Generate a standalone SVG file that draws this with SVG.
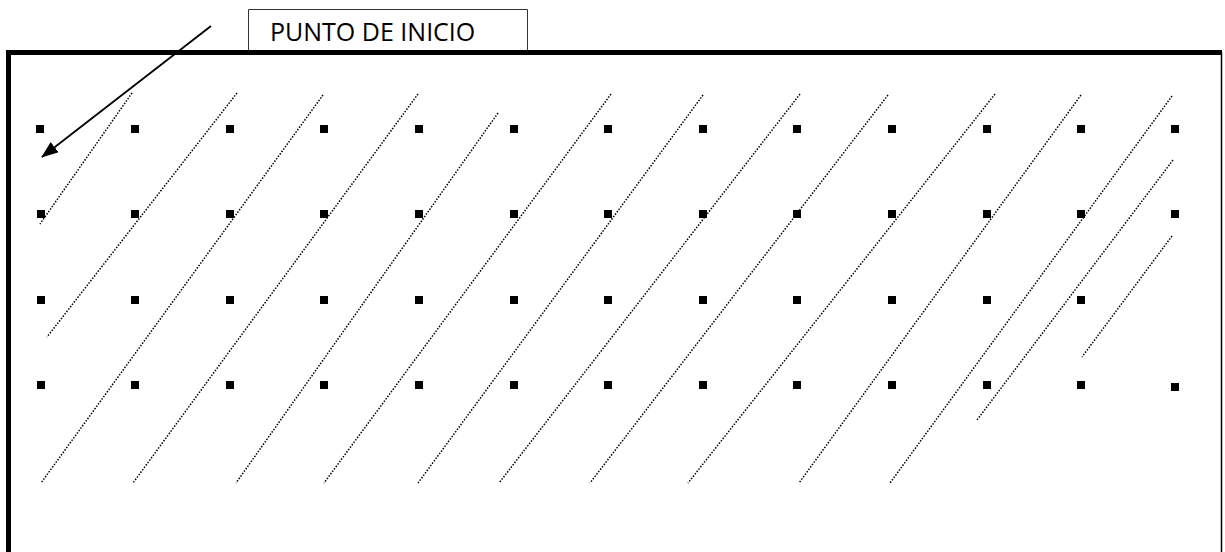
<svg xmlns="http://www.w3.org/2000/svg" width="1225" height="552" viewBox="0 0 1225 552">
<defs>
<style>
.dot{stroke:#000;stroke-width:1.5;stroke-dasharray:1.5 1.5;fill:none}
.sq{fill:#000}
.lbl{font-family:"Open Sans","Noto Sans","Liberation Sans",sans-serif;font-size:25px;fill:#000}
</style>
<marker id="ah" markerWidth="17" markerHeight="13" viewBox="0 0 17 13" refX="16" refY="6.5" orient="auto" markerUnits="userSpaceOnUse">
<path d="M0,0 L17,6.5 L0,13 Z" fill="#000"/>
</marker>
<rect id="s" x="-4" y="-4" width="8" height="8"/>
</defs>
<rect width="1225" height="552" fill="#fff"/>
<g id="frame">
<path d="M8.5,552 V52.5 H1222" fill="none" stroke="#000" stroke-width="5"/>
<line x1="1221.5" y1="52" x2="1221.5" y2="552" stroke="#000" stroke-width="1.5"/>
</g>
<g id="label">
<path d="M248.5,50 V9.5 H527.5 V50" fill="#fff" stroke="#333" stroke-width="1"/>
<text class="lbl" x="270" y="41">PUNTO DE INICIO</text>
</g>
<g id="points" class="sq">
<use href="#s" x="40" y="129"/><use href="#s" x="135" y="129"/><use href="#s" x="230" y="129"/><use href="#s" x="324" y="129"/><use href="#s" x="419" y="129"/><use href="#s" x="514" y="129"/><use href="#s" x="608" y="129"/><use href="#s" x="703" y="129"/><use href="#s" x="797" y="129"/><use href="#s" x="892" y="129"/><use href="#s" x="987" y="129"/><use href="#s" x="1081" y="129"/><use href="#s" x="1175" y="129"/>
<use href="#s" x="41" y="214"/><use href="#s" x="135" y="214"/><use href="#s" x="230" y="214"/><use href="#s" x="324" y="214"/><use href="#s" x="419" y="214"/><use href="#s" x="514" y="214"/><use href="#s" x="608" y="214"/><use href="#s" x="703" y="214"/><use href="#s" x="797" y="214"/><use href="#s" x="892" y="214"/><use href="#s" x="987" y="214"/><use href="#s" x="1081" y="214"/><use href="#s" x="1175" y="214"/>
<use href="#s" x="41" y="300"/><use href="#s" x="135" y="300"/><use href="#s" x="230" y="300"/><use href="#s" x="324" y="300"/><use href="#s" x="419" y="300"/><use href="#s" x="514" y="300"/><use href="#s" x="608" y="300"/><use href="#s" x="703" y="300"/><use href="#s" x="797" y="300"/><use href="#s" x="892" y="300"/><use href="#s" x="987" y="300"/><use href="#s" x="1081" y="300"/>
<use href="#s" x="41" y="385"/><use href="#s" x="135" y="385"/><use href="#s" x="230" y="385"/><use href="#s" x="324" y="385"/><use href="#s" x="419" y="385"/><use href="#s" x="514" y="385"/><use href="#s" x="608" y="385"/><use href="#s" x="703" y="385"/><use href="#s" x="797" y="385"/><use href="#s" x="892" y="385"/><use href="#s" x="987" y="385"/><use href="#s" x="1081" y="385"/><use href="#s" x="1175" y="387"/>
</g>
<g id="connectors">
<line class="dot" x1="132" y1="93" x2="40" y2="224"/>
<line class="dot" x1="237" y1="93" x2="47" y2="337"/>
<line class="dot" x1="323" y1="95" x2="41" y2="483"/>
<line class="dot" x1="418" y1="94" x2="133" y2="483"/>
<line class="dot" x1="498" y1="113" x2="236" y2="483"/>
<line class="dot" x1="611" y1="94" x2="324" y2="483"/>
<line class="dot" x1="703" y1="95" x2="418" y2="483"/>
<line class="dot" x1="800" y1="94" x2="499" y2="483"/>
<line class="dot" x1="888" y1="95" x2="590" y2="483"/>
<line class="dot" x1="995" y1="94" x2="688" y2="483"/>
<line class="dot" x1="1081" y1="95" x2="799" y2="483"/>
<line class="dot" x1="1172" y1="96" x2="890" y2="483"/>
<line class="dot" x1="1173" y1="160" x2="977" y2="420"/>
<line class="dot" x1="1172" y1="236" x2="1082" y2="357"/>
<line x1="211" y1="26" x2="42" y2="157" stroke="#000" stroke-width="1.8" marker-end="url(#ah)"/>
</g>
</svg>
